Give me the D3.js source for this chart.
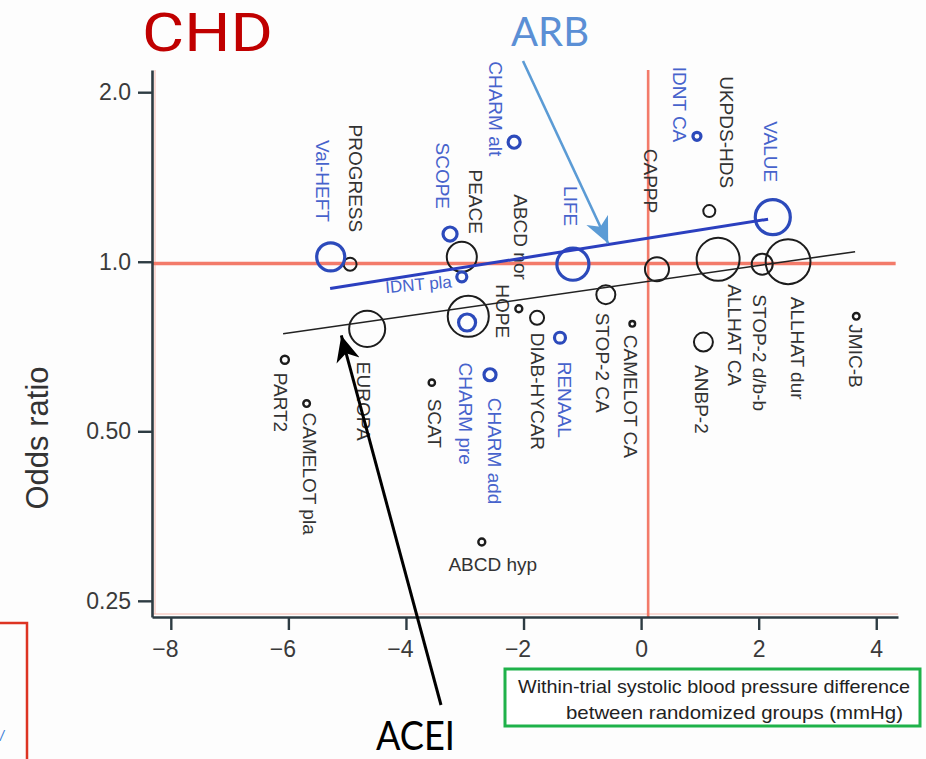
<!DOCTYPE html>
<html>
<head>
<meta charset="utf-8">
<script src="https://cdn.jsdelivr.net/npm/d3@7"></script>
<style>
  body { margin: 0; background: #ffffff; }
  svg { display: block; }
</style>
</head>
<body>
<svg id="chart" width="926" height="759"></svg>
<script>
// Trials treated with angiotensin receptor blockers (blue)
const arbTrials = ["Val-HEFT", "SCOPE", "CHARM alt", "IDNT pla", "LIFE", "IDNT CA", "VALUE", "CHARM pre", "CHARM add", "RENAAL"];
const arbSbpDiff = [-5.28, -3.25, -2.16, -3.05, -1.16, 0.95, 2.24, -2.96, -2.57, -1.38];
const arbOddsRatio = [1.02, 1.12, 1.63, 0.94, 0.99, 1.67, 1.20, 0.78, 0.63, 0.733];
const arbWeight = [196, 49, 36, 25, 256, 16, 306, 72, 36, 30];

// ACE inhibitor and other comparator trials (black)
const aceiTrials = ["PROGRESS", "PEACE", "ABCD nor", "DIAB-HYCAR", "EUROPA", "HOPE", "STOP-2 CA", "CAMELOT CA", "CAPPP", "UKPDS-HDS", "ALLHAT CA", "STOP-2 d/b-b", "ALLHAT dur", "ANBP-2", "JMIC-B", "PART2", "CAMELOT pla", "SCAT", "ABCD hyp"];
const aceiSbpDiff = [-4.95, -3.05, -2.08, -1.77, -4.66, -2.94, -0.60, -0.15, 0.27, 1.16, 1.31, 2.06, 2.50, 1.06, 3.66, -6.06, -5.69, -3.56, -2.71];
const aceiOddsRatio = [0.99, 1.02, 0.825, 0.795, 0.76, 0.80, 0.874, 0.776, 0.97, 1.23, 1.01, 0.99, 1.0, 0.72, 0.80, 0.67, 0.56, 0.61, 0.318];
const aceiWeight = [42, 225, 12, 49, 324, 420, 90, 8, 144, 36, 460, 110, 500, 90, 11, 16, 11, 10, 12];

// Meta-regression lines: [x start, x end] and [OR start, OR end]
const arbFitX = [-5.29, 2.16];
const arbFitOR = [0.896, 1.19];
const aceiFitX = [-6.09, 3.64];
const aceiFitOR = [0.745, 1.042];

// Axis ticks
const xTicks = [-8, -6, -4, -2, 0, 2, 4];
const yTicks = [0.25, 0.5, 1.0, 2.0];
const yTickLabels = ["0.25", "0.50", "1.0", "2.0"];

// Label placement (pixel offsets from each circle centre)
// mode: "up" = vertical text ending at offset, "down" = vertical text starting at offset,
// "hend" / "hmid" = horizontal text
const labelLayout = {
  "Val-HEFT": [-8, -35, "up"], "SCOPE": [-8, -25, "up"], "CHARM alt": [-19, 14, "up"],
  "IDNT pla": [-10, 5, "hend"], "LIFE": [-2, -38, "up"], "IDNT CA": [-17, 6, "up"],
  "VALUE": [-2, -35, "up"], "CHARM pre": [-2, 40, "down"], "CHARM add": [4, 23, "down"],
  "RENAAL": [5, 24, "down"],
  "PROGRESS": [5, -32, "up"], "PEACE": [14, -23, "up"], "ABCD nor": [2, -29, "up"],
  "DIAB-HYCAR": [0, 15, "down"], "EUROPA": [-4, 33, "down"], "HOPE": [34, -32, "down"],
  "STOP-2 CA": [-3, 18, "down"], "CAMELOT CA": [-2, 11, "down"], "CAPPP": [-6, -56, "up"],
  "UKPDS-HDS": [17, -23, "up"], "ALLHAT CA": [16, 25, "down"], "STOP-2 d/b-b": [-3, 30, "down"],
  "ALLHAT dur": [9, 35, "down"], "ANBP-2": [-2, 23, "down"], "JMIC-B": [-1, 8, "down"],
  "PART2": [-4, 13, "down"], "CAMELOT pla": [3, 9, "down"], "SCAT": [3, 16, "down"],
  "ABCD hyp": [11, 29, "hmid"]
};

const svg = d3.select("#chart");
const W = 926, H = 759;
const plot = { left: 152, right: 898, top: 70, bottom: 617 };

const x = d3.scaleLinear().domain([-8.32, 4.37]).range([plot.left, plot.right]);
const y = d3.scaleLog().base(2).domain([0.234, 2.19]).range([plot.bottom, plot.top]);
const r = d3.scaleSqrt().domain([0, 500]).range([0, 22.4]);

const BLUE = "#2c4abb";
const BLUE_TEXT = "#4763cc";
const INK = "#1c1c1c";
const REF = "#f3715e";
const FONT = "'Liberation Sans', Arial, Helvetica, sans-serif";

svg.append("rect").attr("width", W).attr("height", H).attr("fill", "#fdfdfd");

// Faint frame along the axes
const frame = svg.append("g").attr("stroke", "#f6b8ad").attr("stroke-width", 1).attr("fill", "none");
frame.append("line").attr("x1", plot.left + 3).attr("x2", plot.left + 3).attr("y1", plot.top).attr("y2", plot.bottom - 3);
frame.append("line").attr("x1", plot.left).attr("x2", plot.right).attr("y1", plot.bottom - 3).attr("y2", plot.bottom - 3);

// Reference lines: no difference in odds (OR = 1) and no SBP difference
svg.append("line")
  .attr("x1", plot.left).attr("x2", x(4.33))
  .attr("y1", y(0.993)).attr("y2", y(0.993))
  .attr("stroke", REF).attr("stroke-width", 3.4).attr("opacity", 0.92);
svg.append("line")
  .attr("x1", x(0.12)).attr("x2", x(0.12))
  .attr("y1", plot.top).attr("y2", plot.bottom)
  .attr("stroke", REF).attr("stroke-width", 2.6).attr("opacity", 0.92);

// Axes
const xAxis = d3.axisBottom(x)
  .tickValues(xTicks)
  .tickSize(13).tickSizeOuter(0).tickPadding(11)
  .tickFormat(d => d < 0 ? "\u2212" + Math.abs(d) : String(d));
const gx = svg.append("g").attr("transform", `translate(0,${plot.bottom})`).call(xAxis);
gx.select(".domain").attr("stroke", "#2d3b42").attr("stroke-width", 2.6);
gx.selectAll(".tick line").attr("stroke", "#2d3b42").attr("stroke-width", 2.4);
gx.selectAll(".tick text")
  .attr("font-family", FONT).attr("font-size", 23).attr("fill", "#3a3a3a")
  .attr("dx", d => d < 0 ? -6 : 0);

const yAxis = d3.axisLeft(y)
  .tickValues(yTicks)
  .tickSize(14).tickSizeOuter(0).tickPadding(7)
  .tickFormat((d, i) => yTickLabels[i]);
const gy = svg.append("g").attr("transform", `translate(${plot.left},0)`).call(yAxis);
gy.select(".domain").attr("stroke", "#2d3b42").attr("stroke-width", 2.6);
gy.selectAll(".tick line").attr("stroke", "#2d3b42").attr("stroke-width", 2.4);
gy.selectAll(".tick text")
  .attr("font-family", FONT).attr("font-size", 23).attr("fill", "#3a3a3a");

// Axis titles
svg.append("text")
  .attr("transform", `translate(48,438) rotate(-90)`)
  .attr("text-anchor", "middle")
  .attr("font-family", FONT).attr("font-size", 31).attr("fill", "#333")
  .text("Odds ratio");

svg.append("rect")
  .attr("x", 505).attr("y", 669).attr("width", 415).attr("height", 57)
  .attr("fill", "#ffffff").attr("stroke", "#1fb24a").attr("stroke-width", 3);
svg.append("text")
  .attr("x", 518).attr("y", 693)
  .attr("font-family", FONT).attr("font-size", 18.5).attr("fill", "#222")
  .attr("textLength", 392).attr("lengthAdjust", "spacingAndGlyphs")
  .text("Within-trial systolic blood pressure difference");
svg.append("text")
  .attr("x", 566).attr("y", 719)
  .attr("font-family", FONT).attr("font-size", 18.5).attr("fill", "#222")
  .attr("textLength", 337).attr("lengthAdjust", "spacingAndGlyphs")
  .text("between randomized groups (mmHg)");

// Build trial records
function records(names, sbp, or, w, cls) {
  return names.map((n, i) => ({ name: n, sbp: sbp[i], or: or[i], w: w[i], cls }));
}
const trials = records(aceiTrials, aceiSbpDiff, aceiOddsRatio, aceiWeight, "acei")
  .concat(records(arbTrials, arbSbpDiff, arbOddsRatio, arbWeight, "arb"));

// Trial labels
const labels = svg.append("g").attr("font-family", FONT).attr("font-size", 19);
trials.forEach(t => {
  const [dx, dy, mode] = labelLayout[t.name];
  const px = x(t.sbp) + dx, py = y(t.or) + dy;
  const txt = labels.append("text")
    .attr("fill", t.cls === "arb" ? BLUE_TEXT : "#333")
    .text(t.name);
  if (mode === "up" || mode === "down") {
    txt.attr("transform", `translate(${px},${py}) rotate(90)`)
      .attr("text-anchor", mode === "up" ? "end" : "start")
      .attr("dominant-baseline", "central");
  } else if (mode === "hend") {
    txt.attr("transform", `translate(${px},${py}) rotate(-5)`)
      .attr("text-anchor", "end")
      .attr("dominant-baseline", "central")
      .attr("font-size", 17);
  } else {
    txt.attr("x", px).attr("y", py).attr("text-anchor", "middle");
  }
});

// Trial circles, sized by weight
svg.append("g").selectAll("circle")
  .data(trials)
  .join("circle")
  .attr("cx", d => x(d.sbp))
  .attr("cy", d => y(d.or))
  .attr("r", d => r(d.w))
  .attr("fill", "none")
  .attr("stroke", d => d.cls === "arb" ? BLUE : INK)
  .attr("stroke-width", d => d.cls === "arb" ? 3.2 : (r(d.w) < 5 ? 2.4 : 2));

// Meta-regression lines
const fitLine = d3.line().x(d => x(d[0])).y(d => y(d[1]));
svg.append("path")
  .attr("d", fitLine(aceiFitX.map((v, i) => [v, aceiFitOR[i]])))
  .attr("stroke", "#222").attr("stroke-width", 1.6).attr("fill", "none");
svg.append("path")
  .attr("d", fitLine(arbFitX.map((v, i) => [v, arbFitOR[i]])))
  .attr("stroke", "#2b3fbf").attr("stroke-width", 3).attr("fill", "none");

// Odds ratio on a fitted line at a given SBP difference (log-linear)
function fitAt(xs, ors, v) {
  const t = (v - xs[0]) / (xs[1] - xs[0]);
  return Math.exp(Math.log(ors[0]) + t * (Math.log(ors[1]) - Math.log(ors[0])));
}

// Arrow markers
const defs = svg.append("defs");
function marker(id, color) {
  defs.append("marker")
    .attr("id", id)
    .attr("viewBox", "-12 -6 12 12")
    .attr("refX", 0).attr("refY", 0)
    .attr("markerUnits", "userSpaceOnUse")
    .attr("markerWidth", 26).attr("markerHeight", 26)
    .attr("orient", "auto")
    .append("path")
    .attr("d", "M0,0 L-12,-5.5 L-8.5,0 L-12,5.5 Z")
    .attr("fill", color);
}
marker("arbHead", "#5b9bd5");
marker("aceiHead", "#000");

// Group annotations
const arbTipX = x(-0.56), arbTipY = y(fitAt(arbFitX, arbFitOR, -0.56)) - 1;
svg.append("line")
  .attr("x1", 523).attr("y1", 61).attr("x2", arbTipX).attr("y2", arbTipY)
  .attr("stroke", "#5b9bd5").attr("stroke-width", 2.6)
  .attr("marker-end", "url(#arbHead)");
svg.append("text")
  .attr("x", 511).attr("y", 46)
  .attr("font-family", "Lato, 'Open Sans', sans-serif").attr("font-size", 40)
  .attr("fill", "#5b8fd5")
  .text("ARB");

const aceiTipX = x(-5.1), aceiTipY = y(fitAt(aceiFitX, aceiFitOR, -5.1)) + 10;
svg.append("line")
  .attr("x1", 441).attr("y1", 705).attr("x2", aceiTipX).attr("y2", aceiTipY)
  .attr("stroke", "#000").attr("stroke-width", 3)
  .attr("marker-end", "url(#aceiHead)");
svg.append("text")
  .attr("x", 376).attr("y", 750)
  .attr("font-family", "Lato, 'Open Sans', sans-serif").attr("font-size", 40)
  .attr("fill", "#000")
  .attr("textLength", 79).attr("lengthAdjust", "spacingAndGlyphs")
  .text("ACEI");

// Outcome title
svg.append("text")
  .attr("x", 142).attr("y", 51)
  .attr("font-family", "Roboto, Lato, sans-serif").attr("font-size", 54)
  .attr("fill", "#c00000")
  .attr("textLength", 131).attr("lengthAdjust", "spacingAndGlyphs")
  .text("CHD");

// Neighbouring panel edge at the lower left
svg.append("path")
  .attr("d", "M0,623 H27 V759")
  .attr("fill", "none").attr("stroke", "#dd3322").attr("stroke-width", 2.5);
svg.append("text")
  .attr("x", 0).attr("y", 741)
  .attr("font-family", FONT).attr("font-size", 14).attr("font-style", "italic")
  .attr("fill", "#3a7bd5")
  .text("/");
</script>
</body>
</html>
